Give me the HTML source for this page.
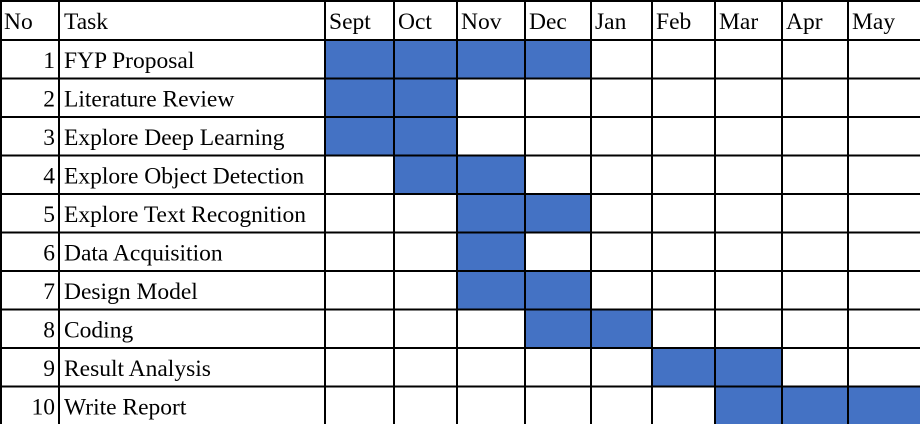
<!DOCTYPE html>
<html><head><meta charset="utf-8"><style>
html,body{margin:0;padding:0;background:#fff;width:920px;height:424px;overflow:hidden}
svg{display:block}
</style></head><body>
<svg id="chart" width="920" height="424" xmlns="http://www.w3.org/2000/svg"></svg>
<script>
const months = ["Sept","Oct","Nov","Dec","Jan","Feb","Mar","Apr","May"];
const tasks = ["FYP Proposal","Literature Review","Explore Deep Learning","Explore Object Detection","Explore Text Recognition","Data Acquisition","Design Model","Coding","Result Analysis","Write Report"];
const startMonth = [0,0,0,1,2,2,2,3,5,6];
const endMonth = [3,1,1,2,3,2,3,4,6,8];

const svg = document.getElementById('chart');
const NS = "http://www.w3.org/2000/svg";
const colX = [1,59,325,394,457,525,591,652,715,782,848,921];
const headerTop = 1, headerH = 39, rowH = 38.5;
function rowY(i){ return headerTop + headerH + i*rowH; }
function monthX(m){ return colX[m+2]; }

function mk(tag, attrs){ const e=document.createElementNS(NS,tag); for(const k in attrs) e.setAttribute(k,attrs[k]); svg.appendChild(e); return e; }

for(let i=0;i<tasks.length;i++){
  for(let m=startMonth[i]; m<=endMonth[i]; m++){
    const r = mk('rect',{x:monthX(m),y:rowY(i),width:monthX(m+1)-monthX(m),height:rowH,fill:'#4472C4'});
    
    
  }
}
const bottom = rowY(tasks.length);
for(const x of colX){
  const l = mk('line',{x1:x,y1:0,x2:x,y2:bottom+2,stroke:'#000','stroke-width':2});
  
  
}
for(let i=0;i<=tasks.length;i++){
  const y = i===0?headerTop:rowY(i-1);
  const l = mk('line',{x1:0,y1:y,x2:920,y2:y,stroke:'#000','stroke-width':2});
  
  
}
function txt(s,x,y,anchor,name){
  const t = mk('text',{x:x,y:y,'text-anchor':anchor||'start','font-family':'Liberation Serif, serif','font-size':'23.5px',fill:'#000'}); t.textContent=s;
  
  
  return t;
}
const headBase = headerTop + 28;
txt("No",4,headBase,'start','header-no');
txt("Task",64,headBase,'start','header-task');
months.forEach((m,k)=>{ txt(m,monthX(k)+4,headBase,'start','header-'+m.toLowerCase()); });
tasks.forEach((t,i)=>{
  const y = rowY(i)+28;
  txt(String(i+1),55,y,'end','task-number-'+(i+1));
  txt(t,64,y,'start','task-name-'+(i+1));
});
</script>
</body></html>
